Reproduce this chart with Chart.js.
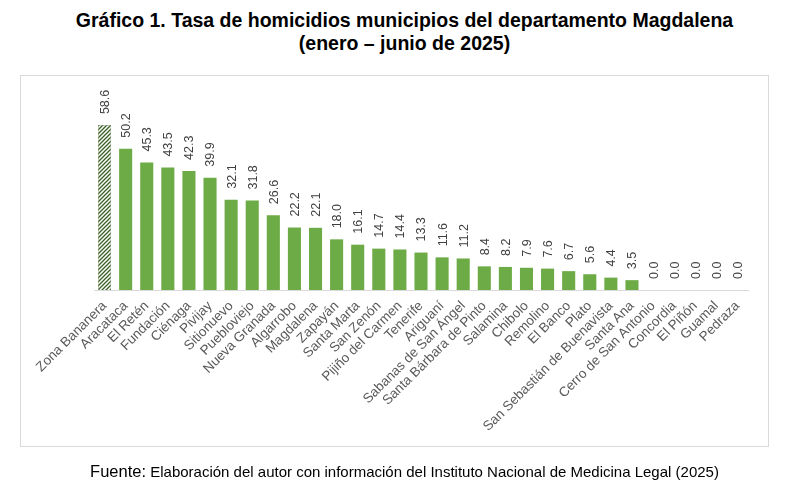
<!DOCTYPE html>
<html><head><meta charset="utf-8">
<script src="https://cdn.jsdelivr.net/npm/chart.js@4.4.0/dist/chart.umd.min.js"></script>
<style>
html,body{margin:0;padding:0;background:#fff;width:809px;height:492px;overflow:hidden;font-family:"Liberation Sans",Arial,sans-serif;}
#title{position:absolute;left:0;width:809px;top:9px;text-align:center;font-weight:bold;font-size:19.5px;line-height:23px;color:#000;}
#box{position:absolute;left:20px;top:75px;width:747px;height:370px;border:1px solid #D9D9D9;}
#wrap{position:absolute;left:0;top:0;width:809px;height:492px;}
#src{position:absolute;left:0;width:809px;top:462px;text-align:center;font-size:15px;line-height:18px;color:#000;}
#src .f{font-size:16.5px;}
</style></head>
<body>
<div id="title">Gráfico 1. Tasa de homicidios municipios del departamento Magdalena<br>(enero – junio de 2025)</div>
<div id="box"></div>
<div id="wrap"><canvas id="c"></canvas></div>
<div id="src"><span class="f">Fuente:</span> Elaboración del autor con información del Instituto Nacional de Medicina Legal (2025)</div>
<script>
const categories = ["Zona Bananera","Aracataca","El Retén","Fundación","Ciénaga","Pivijay","Sitionuevo","Puebloviejo","Nueva Granada","Algarrobo","Magdalena","Zapayán","Santa Marta","San Zenón","Pijiño del Carmen","Tenerife","Ariguaní","Sabanas de San Ángel","Santa Bárbara de Pinto","Salamina","Chibolo","Remolino","El Banco","Plato","San Sebastián de Buenavista","Santa Ana","Cerro de San Antonio","Concordia","El Piñón","Guamal","Pedraza"];
const rates = [58.6,50.2,45.3,43.5,42.3,39.9,32.1,31.8,26.6,22.2,22.1,18.0,16.1,14.7,14.4,13.3,11.6,11.2,8.4,8.2,7.9,7.6,6.7,5.6,4.4,3.5,0.0,0.0,0.0,0.0,0.0];

const GREEN = '#6CAB45';
const DARK = '#3A5F24';

function hatch(){
  const p = document.createElement('canvas');
  p.width = 4; p.height = 4;
  const g = p.getContext('2d');
  g.fillStyle = '#ffffff'; g.fillRect(0,0,4,4);
  g.strokeStyle = DARK; g.lineWidth = 1.3;
  g.beginPath();
  g.moveTo(-1,5); g.lineTo(5,-1);
  g.moveTo(-1,1); g.lineTo(1,-1);
  g.moveTo(3,5); g.lineTo(5,3);
  g.stroke();
  return document.getElementById('c').getContext('2d').createPattern(p,'repeat');
}
const pat = hatch();

const valueLabels = {
  id: 'valueLabels',
  afterDatasetsDraw(chart){
    const ctx = chart.ctx;
    const meta = chart.getDatasetMeta(0);
    const data = chart.data.datasets[0].data;
    ctx.save();
    ctx.font = '12.5px "Liberation Sans", Arial, sans-serif';
    ctx.fillStyle = '#404040';
    ctx.textAlign = 'left';
    ctx.textBaseline = 'middle';
    meta.data.forEach((bar, i) => {
      ctx.save();
      ctx.translate(bar.x + 1, bar.y - 11);
      ctx.rotate(-Math.PI/2);
      ctx.fillText(data[i].toFixed(1), 0, 0);
      ctx.restore();
    });
    ctx.restore();
  }
};

new Chart(document.getElementById('c'), {
  type: 'bar',
  data: {
    labels: categories,
    datasets: [{
      data: rates,
      backgroundColor: rates.map((v,i) => i === 0 ? pat : GREEN),
      borderColor: rates.map((v,i) => i === 0 ? DARK : GREEN),
      borderWidth: rates.map((v,i) => i === 0 ? 0.5 : 0),
      barPercentage: 0.62,
      categoryPercentage: 1.0
    }]
  },
  options: {
    responsive: true,
    maintainAspectRatio: false,
    animation: false,
    devicePixelRatio: 1,
    layout: { padding: { top: 93, bottom: 52, left: 94, right: 61 } },
    plugins: { legend: { display: false }, tooltip: { enabled: false }, title: { display: false } },
    scales: {
      x: {
        grid: { display: false, drawTicks: false },
        border: { display: true, color: '#D9D9D9', width: 1 },
        ticks: {
          minRotation: 45, maxRotation: 45, autoSkip: false, padding: 8,
          color: '#595959',
          font: { family: '"Liberation Sans", Arial, sans-serif', size: 13.5 }
        },
        afterFit: s => { s.height = 150; }
      },
      y: { display: false, min: 0, max: 70 }
    }
  },
  plugins: [valueLabels]
});
</script>
</body></html>
